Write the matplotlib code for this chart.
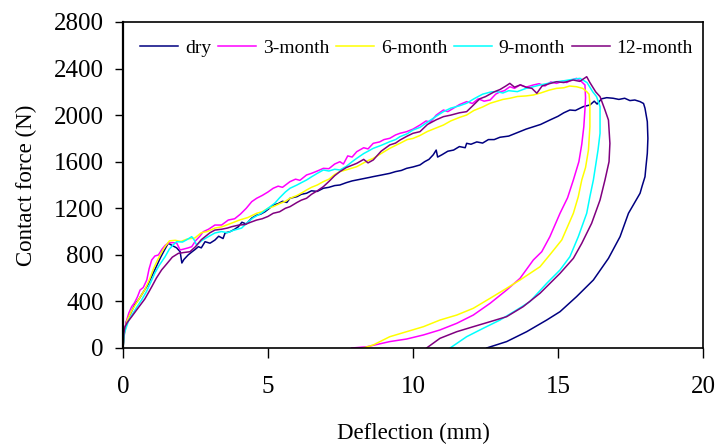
import matplotlib
matplotlib.use("Agg")
import matplotlib.pyplot as plt

# --------------------------------------------------
# Data (deflection mm, force N)
# --------------------------------------------------

dry_x = [0, 0.05, 0.12, 0.25, 0.40, 0.55, 0.70, 0.85, 1.00, 1.15, 1.30, 1.45, 1.56, 1.70,
         1.85, 1.97, 2.03, 2.10, 2.25, 2.40, 2.48, 2.60, 2.70, 2.83, 3.00, 3.17, 3.30, 3.45,
         3.52, 3.70, 3.85, 3.98, 4.10, 4.25, 4.44, 4.60, 4.75, 4.90, 5.05, 5.18, 5.35, 5.50,
         5.65, 5.76, 6.00, 6.15, 6.33, 6.50, 6.70, 6.91, 7.10, 7.30, 7.48, 7.70, 7.90, 8.06,
         8.30, 8.50, 8.63, 8.90, 9.20, 9.40, 9.60, 9.78, 10.00, 10.24, 10.40, 10.55, 10.70,
         10.80, 10.85, 11.00, 11.20, 11.40, 11.60, 11.80, 11.85, 12.00, 12.20, 12.40, 12.60,
         12.80, 13.00, 13.30, 13.60, 13.90, 14.15, 14.40, 14.72, 15.00, 15.20, 15.41, 15.60,
         15.87, 16.10, 16.25, 16.35, 16.50, 16.68, 16.90, 17.10, 17.30, 17.48, 17.65, 17.83,
         17.95, 18.00, 18.08, 18.10, 18.08, 18.03, 18.00, 17.90, 17.83, 17.60, 17.43, 17.14,
         16.74, 16.22, 15.64, 15.07, 14.61, 13.92, 13.23, 12.54]
dry_f = [0, 130, 230, 290, 370, 420, 480, 540, 620, 700, 780, 850, 900, 880,
         860, 827, 730, 760, 800, 830, 845, 870, 860, 913, 900, 927, 960, 940,
         988, 1000, 1020, 1042, 1080, 1065, 1116, 1140, 1150, 1171, 1200, 1228, 1240, 1260,
         1250, 1286, 1300, 1320, 1329, 1350, 1345, 1372, 1380, 1395, 1400, 1420, 1435, 1443,
         1455, 1465, 1472, 1485, 1500, 1515, 1525, 1543, 1555, 1572, 1600, 1620, 1660,
         1700, 1640, 1660, 1690, 1700, 1730, 1720, 1758, 1750, 1770, 1760, 1790,
         1790, 1810, 1820, 1850, 1880, 1900, 1920, 1958, 1990, 2020, 2044, 2040,
         2073, 2087, 2120, 2095, 2140, 2150, 2145, 2135, 2145, 2125, 2130, 2116,
         2100, 2059, 1944, 1800, 1672, 1550, 1471, 1390, 1329, 1230, 1157, 956,
         770, 584, 441, 312, 240, 140, 55, 0]

m3_x = [0, 0.05, 0.13, 0.20, 0.30, 0.40, 0.50, 0.59, 0.70, 0.82, 0.90, 0.99, 1.10, 1.22,
        1.35, 1.45, 1.56, 1.70, 1.85, 1.97, 2.10, 2.25, 2.37, 2.50, 2.65, 2.77, 2.95, 3.17,
        3.40, 3.63, 3.85, 4.05, 4.25, 4.44, 4.61, 4.80, 5.00, 5.18, 5.35, 5.50, 5.76, 5.95,
        6.10, 6.33, 6.50, 6.70, 6.91, 7.10, 7.30, 7.48, 7.60, 7.75, 7.90, 8.06, 8.30, 8.45,
        8.63, 8.85, 9.00, 9.20, 9.40, 9.55, 9.78, 10.00, 10.24, 10.45, 10.60, 10.80, 11.05,
        11.20, 11.40, 11.60, 11.85, 12.05, 12.25, 12.45, 12.66, 12.85, 13.00, 13.15, 13.34,
        13.50, 13.70, 13.90, 14.15, 14.35, 14.55, 14.75, 14.95, 15.15, 15.30, 15.45, 15.64,
        15.80, 15.93, 15.95, 15.93, 15.89, 15.82, 15.72, 15.53, 15.33, 15.07, 14.72, 14.44,
        14.15, 13.69, 13.23, 12.66, 12.08, 11.51, 10.93, 10.36, 9.78, 9.20, 8.40, 7.89]
m3_f = [0, 150, 240, 300, 355, 390, 440, 498, 520, 584, 680, 756, 790, 799,
        850, 880, 902, 905, 902, 842, 850, 860, 870, 920, 960, 999, 1020, 1056,
        1056, 1099, 1110, 1150, 1200, 1257, 1286, 1310, 1340, 1372, 1390, 1380, 1429, 1450,
        1440, 1486, 1500, 1520, 1543, 1540, 1580, 1600, 1580, 1650, 1640, 1686, 1720, 1710,
        1758, 1770, 1790, 1801, 1830, 1844, 1858, 1880, 1915, 1950, 1940, 2000, 2044,
        2030, 2060, 2090, 2116, 2100, 2140, 2120, 2130, 2180, 2200, 2210, 2244,
        2230, 2260, 2240, 2259, 2270, 2250, 2285, 2273, 2290, 2280, 2300, 2316,
        2290, 2259, 2150, 2050, 1900, 1750, 1600, 1443, 1290, 1157, 956, 827,
        756, 598, 498, 384, 283, 212, 155, 112, 77, 55, 10, 0]

m6_x = [0, 0.05, 0.15, 0.30, 0.45, 0.60, 0.75, 0.90, 1.05, 1.20, 1.35, 1.45, 1.60, 1.80,
        2.00, 2.20, 2.48, 2.70, 2.90, 3.17, 3.40, 3.75, 4.03, 4.30, 4.61, 4.80, 5.00, 5.18,
        5.40, 5.60, 5.76, 6.00, 6.15, 6.33, 6.50, 6.70, 6.91, 7.10, 7.30, 7.48, 7.70, 7.90,
        8.06, 8.30, 8.45, 8.63, 8.90, 9.20, 9.40, 9.55, 9.80, 10.00, 10.24, 10.50, 10.80,
        11.05, 11.30, 11.60, 11.85, 12.10, 12.40, 12.66, 12.90, 13.10, 13.34, 13.60, 13.90,
        14.15, 14.40, 14.70, 14.95, 15.20, 15.40, 15.64, 15.85, 15.99, 16.07, 16.10, 16.10,
        16.05, 15.95, 15.82, 15.70, 15.53, 15.13, 14.75, 14.38, 13.69, 13.23, 12.66, 12.08,
        11.51, 10.93, 10.36, 9.78, 9.20, 8.63, 8.29]
m6_f = [0, 140, 240, 320, 380, 440, 500, 580, 680, 760, 830, 870, 920, 925,
        915, 935, 945, 990, 1000, 1030, 1040, 1073, 1100, 1120, 1157, 1170, 1200, 1214,
        1240, 1260, 1286, 1310, 1330, 1357, 1380, 1400, 1429, 1450, 1490, 1515, 1530, 1545,
        1557, 1590, 1610, 1629, 1670, 1715, 1740, 1758, 1790, 1800, 1825, 1860, 1890,
        1915, 1950, 1980, 2001, 2040, 2070, 2102, 2120, 2135, 2145, 2160, 2165,
        2173, 2190, 2215, 2230, 2235, 2250, 2244, 2230, 2202, 2180, 2100, 1901,
        1700, 1550, 1443, 1300, 1157, 928, 810, 698, 584, 513, 427, 341,
        283, 240, 183, 140, 97, 26, 0]

m9_x = [0, 0.05, 0.20, 0.35, 0.50, 0.64, 0.80, 0.95, 1.10, 1.25, 1.45, 1.60, 1.75, 1.85,
        2.05, 2.20, 2.37, 2.45, 2.54, 2.70, 2.90, 3.17, 3.40, 3.60, 3.80, 4.09, 4.30, 4.50,
        4.78, 5.00, 5.24, 5.40, 5.60, 5.76, 6.00, 6.15, 6.33, 6.50, 6.70, 6.91, 7.10, 7.30,
        7.48, 7.70, 7.90, 8.06, 8.30, 8.45, 8.63, 8.90, 9.20, 9.40, 9.55, 9.80, 10.00, 10.24,
        10.50, 10.80, 11.05, 11.30, 11.60, 11.85, 12.10, 12.40, 12.70, 12.89, 13.10, 13.30,
        13.60, 13.90, 14.15, 14.40, 14.70, 14.95, 15.20, 15.45, 15.76, 16.00, 16.20, 16.33,
        16.45, 16.45, 16.38, 16.22, 16.10, 15.99, 15.70, 15.41, 15.07, 14.61, 14.03, 13.57,
        13.00, 12.42, 11.85, 11.28]
m9_f = [0, 130, 240, 300, 360, 412, 480, 560, 644, 710, 784, 850, 890, 913,
        910, 930, 956, 930, 884, 920, 950, 988, 1000, 990, 1010, 1030, 1080, 1120,
        1159, 1200, 1245, 1290, 1340, 1372, 1400, 1420, 1443, 1470, 1500, 1529, 1520, 1535,
        1529, 1560, 1600, 1629, 1670, 1690, 1715, 1740, 1772, 1790, 1815, 1840, 1872, 1895,
        1940, 1990, 2030, 2060, 2080, 2102, 2140, 2180, 2200, 2202, 2190, 2210,
        2202, 2230, 2244, 2260, 2275, 2287, 2295, 2305, 2316, 2280, 2200, 2159,
        2073, 1844, 1700, 1443, 1300, 1157, 956, 784, 670, 555, 398, 326,
        240, 169, 97, 0]

m12_x = [0, 0.03, 0.07, 0.15, 0.30, 0.45, 0.60, 0.75, 0.87, 1.00, 1.15, 1.33, 1.50, 1.70,
         1.91, 2.10, 2.31, 2.50, 2.70, 2.83, 3.00, 3.17, 3.40, 3.60, 3.75, 4.00, 4.20, 4.40,
         4.61, 4.80, 5.00, 5.18, 5.40, 5.60, 5.76, 6.00, 6.15, 6.33, 6.50, 6.70, 6.91, 7.10,
         7.30, 7.48, 7.70, 7.90, 8.06, 8.30, 8.45, 8.63, 8.90, 9.20, 9.40, 9.55, 9.80, 10.00,
         10.24, 10.50, 10.80, 11.05, 11.30, 11.60, 11.85, 12.10, 12.30, 12.50, 12.80, 13.00,
         13.20, 13.34, 13.50, 13.70, 13.90, 14.10, 14.27, 14.45, 14.70, 14.95, 15.20, 15.52,
         15.75, 15.99, 16.10, 16.30, 16.45, 16.62, 16.74, 16.79, 16.76, 16.62, 16.45, 16.16,
         15.82, 15.53, 15.07, 14.38, 13.80, 13.23, 12.66, 12.08, 11.51, 10.93, 10.47]
m12_f = [0, 130, 183, 220, 269, 320, 370, 420, 472, 530, 600, 670, 720, 780,
         813, 820, 827, 870, 930, 956, 990, 1013, 1020, 1030, 1042, 1056, 1060, 1080,
         1099, 1110, 1130, 1157, 1170, 1200, 1214, 1250, 1270, 1286, 1320, 1350, 1386, 1430,
         1480, 1515, 1550, 1570, 1586, 1620, 1590, 1615, 1690, 1744, 1760, 1786, 1820, 1844,
         1858, 1920, 1960, 1987, 2000, 2020, 2030, 2090, 2140, 2159, 2200, 2220,
         2250, 2273, 2240, 2260, 2240, 2230, 2188, 2250, 2270, 2287, 2280, 2302,
         2290, 2330, 2280, 2200, 2159, 2044, 1958, 1758, 1600, 1443, 1271, 1071,
         899, 770, 641, 470, 355, 269, 226, 183, 140, 83, 0]

series = [
    ("dry", dry_x, dry_f, "#000080"),
    ("3-month", m3_x, m3_f, "#FF00FF"),
    ("6-month", m6_x, m6_f, "#FFFF00"),
    ("9-month", m9_x, m9_f, "#00FFFF"),
    ("12-month", m12_x, m12_f, "#800080"),
]

x_ticks = [0, 5, 10, 15, 20]
y_ticks = [0, 400, 800, 1200, 1600, 2000, 2400, 2800]

# --------------------------------------------------
# Plot
# --------------------------------------------------

plt.rcParams["font.family"] = ["Liberation Serif", "DejaVu Serif"]

fig = plt.figure(figsize=(7.18, 4.47), dpi=100)
ax = fig.add_axes([0.1713, 0.2215, 0.8078, 0.7293])

for label, xs, fs, color in series:
    ax.plot(xs, fs, color=color, linewidth=1.1, label=label)

ax.set_xlim(0, 20)
ax.set_ylim(0, 2800)
ax.set_xticks(x_ticks)
ax.set_yticks(y_ticks)
ax.tick_params(axis="y", direction="out", length=6, width=1, labelsize=18, pad=8)
ax.tick_params(axis="x", direction="out", length=7, width=1, labelsize=18, pad=13)
ax.xaxis.get_major_ticks()[0].tick1line.set_color("gray")

for side in ["left", "bottom", "right", "top"]:
    ax.spines[side].set_linewidth(1.2)
ax.spines["left"].set_linewidth(1.6)

ax.set_xlabel("Deflection (mm)", fontsize=16.5)
ax.set_ylabel("Contact force (N)", fontsize=16.5)
ax.xaxis.set_label_coords(0.5, -0.23)
ax.yaxis.set_label_coords(-0.148, 0.5)

ax.legend(loc="upper left", bbox_to_anchor=(0.0, 1.0), ncol=5, frameon=False,
          fontsize=14, handlelength=1.95, handletextpad=0.35, columnspacing=0.35,
          borderaxespad=0.5)

fig.savefig("out.png", dpi=100)
